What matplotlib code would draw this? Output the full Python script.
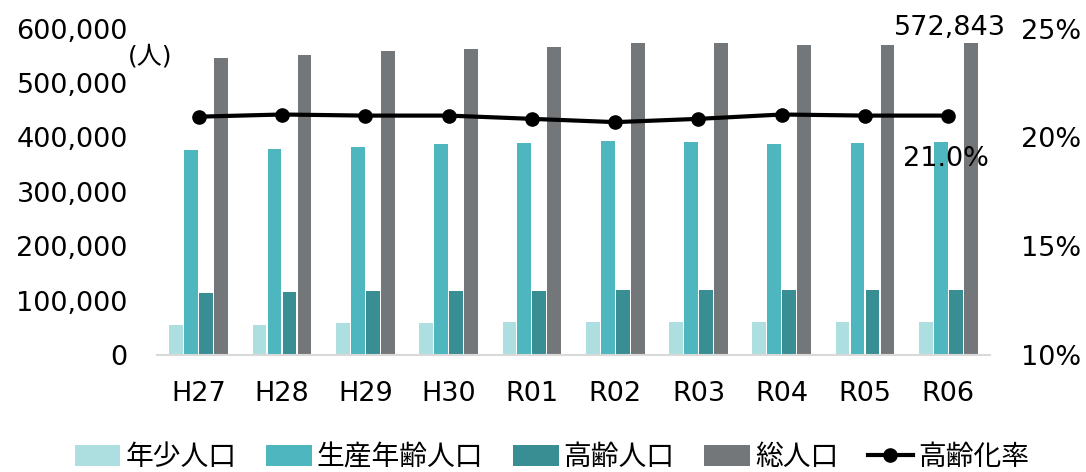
# Population chart: age groups as bars, aging rate as line on a second axis
import matplotlib
matplotlib.use('Agg')
import matplotlib.pyplot as plt
import numpy as np

plt.rcParams['font.family'] = ['DejaVu Sans', 'Noto Sans CJK JP']

# Data
years = ['H27', 'H28', 'H29', 'H30', 'R01', 'R02', 'R03', 'R04', 'R05', 'R06']
young = [55000, 55000, 58000, 58000, 60000, 60000, 60000, 60000, 60000, 60000]
working = [377000, 379000, 383000, 387000, 389000, 393000, 391000, 388000, 390000, 392000]
elderly = [114000, 116000, 118000, 118000, 118000, 120000, 120000, 120000, 120000, 120300]
total = [546000, 551000, 558000, 562000, 566000, 573000, 573000, 570000, 570000, 572843]
rate = [20.95, 21.05, 21.0, 21.0, 20.85, 20.7, 20.85, 21.05, 21.0, 21.0]

series_names = ['年少人口', '生産年齢人口', '高齢人口', '総人口']
colors = ['#AEDFE0', '#4EB6BE', '#388E93', '#74777A']

fig = plt.figure(figsize=(10.86, 4.72), dpi=100)
ax = fig.add_axes([0.1446, 0.248, 0.767, 0.6915])

x = np.arange(len(years))
offsets = [-0.27, -0.09, 0.09, 0.27]
handles = []
for i, vals in enumerate([young, working, elderly, total]):
    b = ax.bar(x + offsets[i], vals, width=0.165, color=colors[i],
               label=series_names[i], zorder=2)
    handles.append(b)

ax.set_xlim(-0.5, len(years) - 0.5)
ax.set_ylim(0, 600000)
ax.set_yticks(np.arange(0, 600001, 100000))
ax.yaxis.set_major_formatter(plt.FuncFormatter(lambda v, p: f'{v:,.0f}'))
ax.set_xticks(x)
ax.set_xticklabels(years)
ax.tick_params(axis='y', length=0, pad=21, labelsize=19.5)
ax.tick_params(axis='x', length=0, pad=19, labelsize=19.5)
for s in ['top', 'left', 'right']:
    ax.spines[s].set_visible(False)
ax.spines['bottom'].set_color('#D9D9D9')
ax.spines['bottom'].set_linewidth(1.5)

# unit label
ax.text(-0.58, 548000, '(人)', fontsize=18, ha='center', va='center')
# total label for last year
ax.text(x[-1] + 0.02, total[-1] + 4000, f'{total[-1]:,}', fontsize=19.5,
        ha='center', va='bottom')

# aging rate line on right axis
ax2 = ax.twinx()
line, = ax2.plot(x, rate, color='black', linewidth=3, marker='o',
                 markersize=9.5, label='高齢化率', zorder=3)
handles.append(line)
ax2.set_ylim(10, 25)
ax2.set_yticks([10, 15, 20, 25])
ax2.yaxis.set_major_formatter(plt.FuncFormatter(lambda v, p: f'{v:.0f}%'))
ax2.tick_params(axis='y', length=0, pad=22, labelsize=19.5)
for s in ['top', 'left', 'right', 'bottom']:
    ax2.spines[s].set_visible(False)
ax2.text(x[-1] - 0.03, rate[-1] - 2.0, f'{rate[-1]:.1f}%', fontsize=19.5,
         ha='center', va='center')

fig.legend(handles=handles, labels=series_names + ['高齢化率'],
           loc='center', bbox_to_anchor=(0.5 + 9 / 1086, 1 - 457 / 472),
           ncol=5, frameon=False, fontsize=20, handlelength=1.65,
           handletextpad=0.18, columnspacing=1.06, handleheight=0.8)

plt.savefig('out.png', dpi=100)
plt.close()
